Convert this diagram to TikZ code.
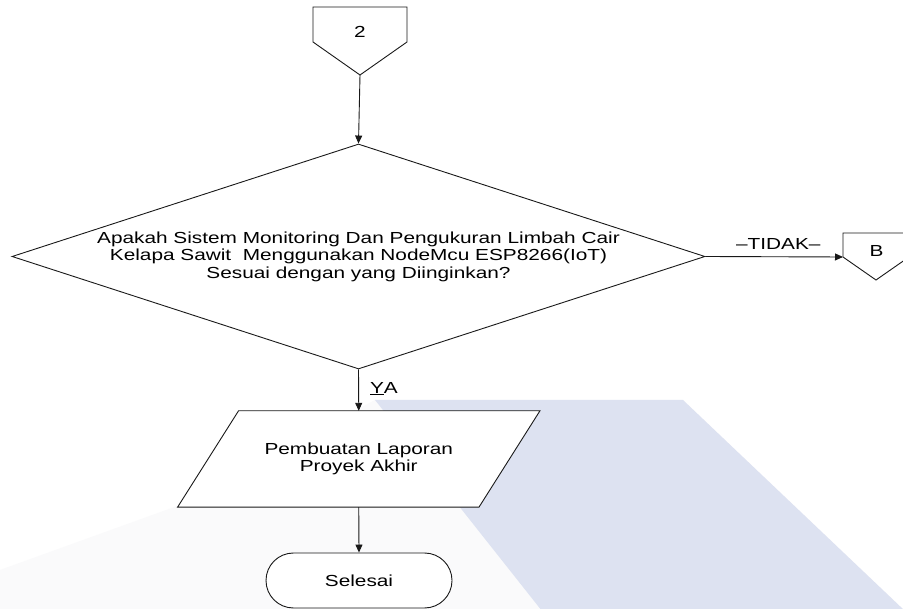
\documentclass[tikz,border=0pt]{standalone}
\usepackage{fontspec}
\setmainfont{Liberation Sans}[FakeStretch=1.3]
\usetikzlibrary{shapes.geometric,shapes.misc,arrows.meta}
\pgfdeclarelayer{bg}
\pgfsetlayers{bg,main}
\definecolor{wmblue}{RGB}{221,226,241}
\definecolor{wmgray}{RGB}{250,250,251}
\definecolor{ln}{RGB}{25,25,25}
\begin{document}
\begin{tikzpicture}[x=1pt,y=-1pt,
  every node/.style={font=\fontsize{16}{17.6}\selectfont, text=black},
  line/.style={draw=ln, line width=0.9pt},
  arr/.style={line, -{Triangle[length=8pt,width=7pt]}},
  lbl/.style={inner sep=0pt, anchor=base}
  ]
\useasboundingbox (0,0) rectangle (903,609);
\begin{pgfonlayer}{bg}
  \fill[white] (0,0) rectangle (903,609);
  % watermark
  \fill[wmgray] (0,570) -- (180,505) -- (375,400) -- (542,609) -- (0,609) -- cycle;
  \fill[wmblue] (375,400) -- (683,400) -- (905,611) -- (542,611) -- cycle;
\end{pgfonlayer}

% off-page connector 2
\draw[line, fill=white] (313,7) -- (407,7) -- (407,42) -- (360,75) -- (313,42) -- cycle;
\node[inner sep=0pt] (n2) at (360,32) {2};
\coordinate (c2) at (360,75);

% decision
\node[diamond, line, fill=white, aspect=3.08, minimum width=693pt, minimum height=225pt,
      inner sep=0pt, align=center] (dec) at (358.5,256.5)
  {Apakah Sistem Monitoring Dan Pengukuran Limbah Cair\\
   Kelapa Sawit\ \ Menggunakan NodeMcu ESP8266(IoT)\\
   Sesuai dengan yang Diinginkan?};

% off-page connector B
\draw[line, fill=white] (843,233) -- (909,233) -- (909,257) -- (876,280) -- (843,257) -- cycle;
\node[inner sep=0pt] (nB) at (876.5,250.5) {B};
\coordinate (Bin) at (843,257);

% process (parallelogram)
\node[minimum width=301pt, minimum height=96pt, inner sep=0pt, align=center] (par) at (358.75,459)
  {Pembuatan Laporan\\Proyek Akhir};
\begin{pgfonlayer}{bg}
  \draw[line, fill=white] ([xshift=30.5pt]par.north west) -- ([xshift=30.5pt]par.north east)
     -- ([xshift=-30.5pt]par.south east) -- ([xshift=-30.5pt]par.south west) -- cycle;
\end{pgfonlayer}

% terminal
\node[rounded rectangle, line, fill=white, minimum width=186pt, minimum height=55pt, inner sep=0pt]
  (stop) at (359,580.5) {Selesai};

% connectors
\draw[arr] (c2) -- (dec.north);
\draw[arr] (dec.east) -- node[lbl, pos=0.53, yshift=7pt] (ltidak) {–TIDAK–} (Bin);
\draw[arr] (dec.south) -- node[lbl, anchor=base west, pos=0.571, xshift=11pt] (lya) {\underline{Y}A} (par.north);
\draw[arr] (par.south) -- (stop.north);
\end{tikzpicture}
\end{document}
